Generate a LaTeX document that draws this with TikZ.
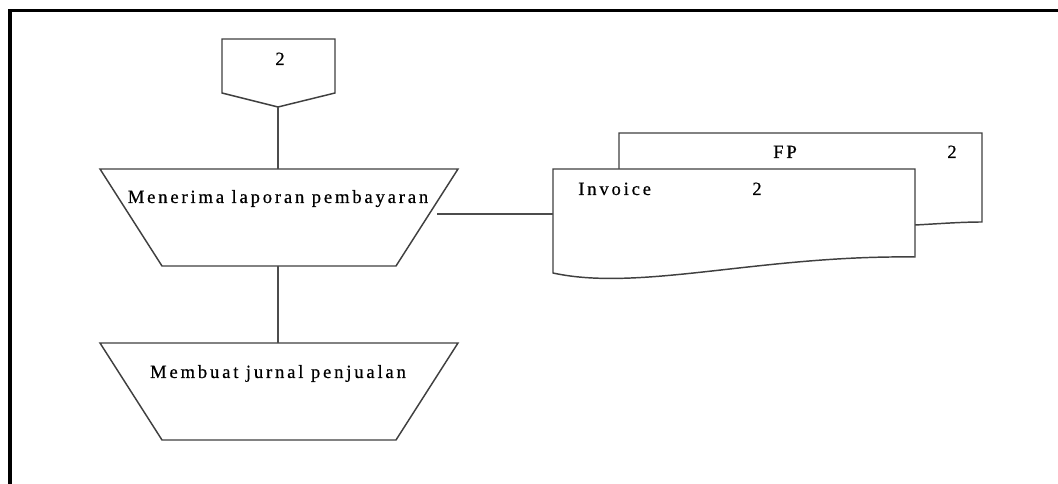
\documentclass[tikz,border=0pt]{standalone}
\usepackage{fontspec}
\setmainfont{Liberation Serif}[LetterSpace=15,FakeBold=0.5]
\begin{document}
\begin{tikzpicture}[x=0.75pt,y=-0.75pt,
  shp/.style={draw=black!75,line width=1.1pt,fill=white,line join=miter},
  con/.style={draw=black!70,line width=1.1pt},
  lbl/.style={font=\fontsize{14}{16}\selectfont,inner sep=0pt,anchor=base}]
\useasboundingbox (0,0) rectangle (1058,484);
\fill[white] (0,0) rectangle (1058,484);
% frame (top and left only)
\draw[line width=2.4pt,black] (1058,10.5) -- (10,10.5) -- (10,484);
% off-page connector
\draw[shp] (222,39) -- (335,39) -- (335,93) -- (278,107) -- (222,93) -- cycle;
\coordinate (opcb) at (278,107);
\node[lbl] (opct) at (280,65) {2};
% trapezium 1
\draw[shp] (100,169) -- (458,169) -- (396,266) -- (162,266) -- cycle;
\coordinate (t1top) at (278,169);
\coordinate (t1bot) at (278,266);
\coordinate (t1right) at (437,214);
\node[lbl] (t1) at (278,203) {Menerima laporan pembayaran};
% trapezium 2
\draw[shp] (100,343) -- (458,343) -- (396,440) -- (162,440) -- cycle;
\coordinate (t2top) at (278,343);
\node[lbl] (t2) at (278,378) {Membuat jurnal penjualan};
% back document
\draw[shp] (619,169) -- (619,133) -- (982,133) -- (982,222) .. controls (960,222) and (935,224) .. (915,225);
\node[lbl] (fp) at (785,158) {FP};
\node[lbl] (fp2) at (952,158) {2};
% front document
\draw[shp] (553,169) -- (915,169) -- (915,257) .. controls (760,255) and (640,292) .. (553,273) -- cycle;
\coordinate (docleft) at (553,214);
\node[lbl,anchor=base west] (inv) at (578,195) {Invoice};
\node[lbl] (inv2) at (757,195) {2};
% connectors
\draw[con] (opcb) -- (t1top);
\draw[con] (t1bot) -- (t2top);
\draw[con] (t1right) -- (docleft);
\end{tikzpicture}
\end{document}
